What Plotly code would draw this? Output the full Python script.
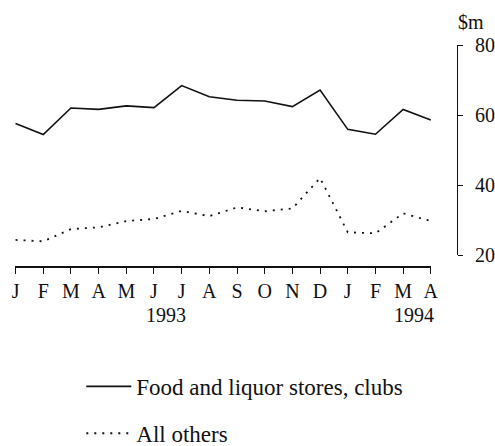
import plotly.graph_objects as go

months = ["J", "F", "M", "A", "M", "J", "J", "A", "S", "O", "N", "D", "J", "F", "M", "A"]
food_liquor = [57.6, 54.4, 62.0, 61.6, 62.6, 62.1, 68.4, 65.2, 64.2, 64.0, 62.4, 67.1, 55.9, 54.5, 61.6, 58.6]
all_others = [24.3, 23.9, 27.4, 27.9, 29.7, 30.3, 32.6, 31.1, 33.6, 32.5, 33.3, 42.0, 26.5, 26.2, 31.9, 29.7]
y_ticks = [20, 40, 60, 80]
years = [("1993", 5.45), ("1994", 14.4)]

FONT = "Liberation Serif, Times New Roman, serif"
idx = list(range(len(months)))

fig = go.Figure()
fig.add_trace(go.Scatter(x=idx, y=food_liquor, mode="lines", name="Food and liquor stores, clubs",
                         line=dict(color="#111", width=1.6), legendgroup="a"))
fig.add_trace(go.Scatter(x=idx, y=all_others, mode="lines", name="All others",
                         line=dict(color="#111", width=1.8, dash="2px,6px"), legendgroup="b"))

for label, xpos in years:
    fig.add_annotation(x=xpos, y=0, xref="x", yref="paper", yanchor="middle", yshift=-48,
                       text=label, showarrow=False, font=dict(family=FONT, size=20, color="#111"))

fig.add_annotation(x=1, y=1, xref="paper", yref="paper", xanchor="left", yanchor="middle",
                   xshift=-1, yshift=23, text="$m", showarrow=False,
                   font=dict(family=FONT, size=20, color="#111"))

fig.update_layout(
    width=495, height=446,
    margin=dict(l=15, r=38, t=45, b=179, autoexpand=False),
    paper_bgcolor="white", plot_bgcolor="white",
    font=dict(family=FONT, color="#111"),
    showlegend=True,
    legend=dict(x=0.15, y=-0.441, xanchor="left", yanchor="top", tracegroupgap=14,
                itemwidth=45,
                font=dict(family=FONT, size=23, color="#111"), bgcolor="rgba(0,0,0,0)"),
    xaxis=dict(domain=[0, 0.942], range=[-0.02, 15.02], tickmode="array", tickvals=idx,
               ticktext=months, showgrid=False, zeroline=False, showline=True,
               linecolor="#111", linewidth=2, ticks="outside", ticklen=6, tickwidth=1,
               tickcolor="#111", tickfont=dict(family=FONT, size=20, color="#111"),
               anchor="free", position=0),
    yaxis=dict(domain=[0.054, 1], range=[20, 80], tickvals=y_ticks, side="right",
               anchor="free", position=1, showgrid=False, zeroline=False, showline=True,
               linecolor="#111", linewidth=1, ticks="outside", ticklen=5, tickwidth=1,
               ticklabelstandoff=8,
               tickcolor="#111", tickfont=dict(family=FONT, size=20, color="#111")),
)

fig.write_html("out.html", config={"displayModeBar": False},
               post_script="document.body.style.margin='0';document.body.style.overflow='hidden';")
